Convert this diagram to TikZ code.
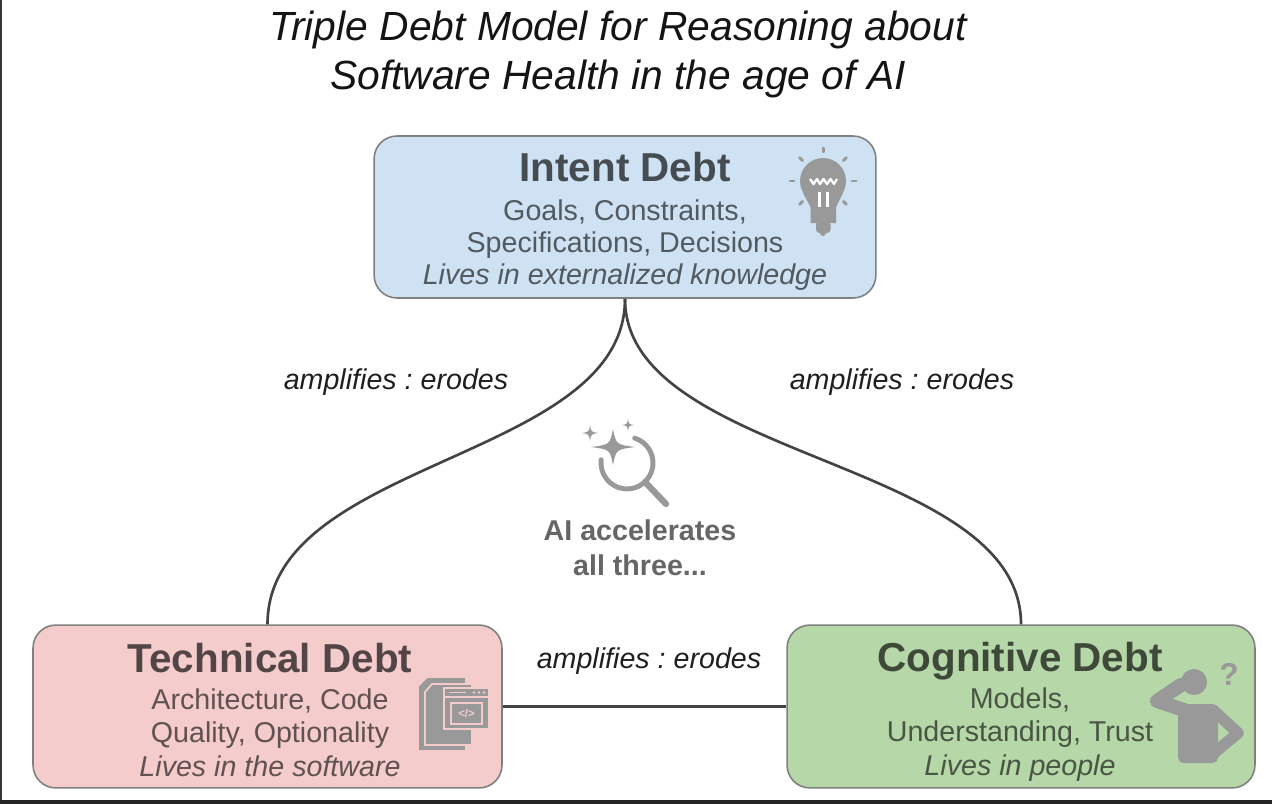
\documentclass[tikz,border=0pt]{standalone}
\usepackage{fontspec}
\setmainfont{Liberation Sans}
\usetikzlibrary{positioning}
\definecolor{intentfill}{HTML}{CFE2F3}
\definecolor{techfill}{HTML}{F4CCCC}
\definecolor{cogfill}{HTML}{B6D7A8}
\definecolor{boxline}{HTML}{808080}
\definecolor{icongray}{HTML}{999999}
\definecolor{linkgray}{HTML}{434343}
\frenchspacing
\tikzset{
  debtbox/.style={draw=boxline, line width=0.9pt, rounded corners=13pt, inner sep=0pt},
  headtext/.style={anchor=base, inner sep=0pt, text=black, text opacity=0.66, font=\fontsize{23}{27}\selectfont\bfseries},
  bodytext/.style={anchor=base, inner sep=0pt, text=black, text opacity=0.6, font=\fontsize{16.3}{19}\selectfont},
  livestext/.style={bodytext, font=\fontsize{16.3}{19}\selectfont\itshape},
  aitext/.style={bodytext, font=\fontsize{16.3}{19}\selectfont\bfseries},
  linklabel/.style={anchor=base, inner sep=0pt, text=black!88, font=\fontsize{16.3}{19}\selectfont\itshape},
  titletext/.style={anchor=base, inner sep=0pt, text=black!92, font=\fontsize{23.2}{27}\selectfont\itshape},
  link/.style={draw=linkgray, line width=1.5pt},
  sparkle/.pic={\fill[icongray] (0,-1) .. controls (0.14,-0.14) .. (1,0) .. controls (0.14,0.14) .. (0,1)
    .. controls (-0.14,0.14) .. (-1,0) .. controls (-0.14,-0.14) .. cycle;}
}
\begin{document}
\begin{tikzpicture}[x=0.02cm, y=-0.02cm]
  \useasboundingbox (0,0) rectangle (1280,804);
  % frame
  \draw[black!80, line width=1.7pt] (1,0) -- (1,804);
  \draw[black!85, line width=2.3pt] (0,802) -- (1272,802);
  % title
  \node[titletext] (title1) at (618,41) {Triple Debt Model for Reasoning about};
  \node[titletext] (title2) at (618,90) {Software Health in the age of AI};
  % the three debts
  \node[debtbox, fill=intentfill, minimum width=285.6pt, minimum height=92.2pt] (intent) at (625,217) {};
  \node[debtbox, fill=techfill, minimum width=266.9pt, minimum height=92.7pt] (technical) at (267.5,706.5) {};
  \node[debtbox, fill=cogfill, minimum width=266.3pt, minimum height=92.7pt] (cognitive) at (1021,706.5) {};
  % connectors
  \draw[link] (intent.south) .. controls +(0,162) and +(0,-166) .. (technical.north);
  \draw[link] (intent.south) .. controls +(0,162) and +(0,-166) .. (cognitive.north);
  \draw[link] (technical.east) -- (cognitive.west);
  \node[linklabel] (labelleft) at (396,389) {amplifies : erodes};
  \node[linklabel] (labelright) at (902,389) {amplifies : erodes};
  \node[linklabel] (labelbottom) at (649,668) {amplifies : erodes};
  % box texts
  \node[headtext] (intenthead) at (625,182) {Intent Debt};
  \node[bodytext] (intentone) at (625,220) {Goals, Constraints,};
  \node[bodytext] (intenttwo) at (625,252) {Specifications, Decisions};
  \node[livestext] (intentlives) at (625,284) {Lives in externalized knowledge};
  \node[headtext] (techhead) at (270,672) {Technical Debt};
  \node[bodytext] (techone) at (270,709) {Architecture, Code};
  \node[bodytext] (techtwo) at (270,742) {Quality, Optionality};
  \node[livestext] (techlives) at (270,776) {Lives in the software};
  \node[headtext] (coghead) at (1020,671) {Cognitive Debt};
  \node[bodytext] (cogone) at (1020,708) {Models,};
  \node[bodytext] (cogtwo) at (1020,741) {Understanding, Trust};
  \node[livestext] (coglives) at (1020,775) {Lives in people};
  % AI in the middle
  \node[aitext] (aione) at (640,540) {AI accelerates};
  \node[aitext] (aitwo) at (640,575) {all three...};
  \draw[icongray, line width=2.8pt, line cap=round] (601.2,459.8) arc[start angle=187, end angle=-73, radius=26];
  \draw[icongray, line width=3.6pt, line cap=round] (645,482) -- (666,504);
  \pic[xscale=22, yscale=18] at (613,447) {sparkle};
  \pic[scale=8] at (590,433) {sparkle};
  \pic[scale=6] at (628,425) {sparkle};
  % light bulb
  \fill[icongray] (823,181) circle (23);
  \fill[icongray] (803,193) -- (843,193) -- (836,207) -- (836,223) -- (810.5,223) -- (810.5,207) -- cycle;
  \fill[icongray, rounded corners=2pt] (816,221) rectangle (830.5,233);
  \fill[icongray] (823,233) circle (3);
  \draw[white, line width=1.3pt, line join=round] (810,179) -- (813.5,184) -- (817,179) -- (820,184) -- (823.5,179)
    -- (827,184) -- (830.5,179) -- (834,184) -- (837,179);
  \draw[white, line width=1.3pt] (819.5,192) -- (819.5,207) (827.5,192) -- (827.5,207);
  \foreach \a in {-90,-45,-135,0,180,45,135}
    \draw[icongray, line width=1.7pt, line cap=round] ([shift={(\a:29)}]823,181) -- ([shift={(\a:33)}]823,181);
  % code pages
  \filldraw[icongray, draw=techfill, line width=1pt] (418,686) -- (427,677) -- (466,677) -- (466,751) -- (418,751) -- cycle;
  \filldraw[icongray, draw=techfill, line width=1pt] (425,692) -- (432,684) -- (472,684) -- (472,745) -- (425,745) -- cycle;
  \filldraw[icongray, draw=techfill, line width=1.2pt] (444,688) rectangle (489,729);
  \draw[techfill, line width=1pt] (444,697) -- (489,697) (449,692.5) -- (466,692.5);
  \foreach \x in {474,479,484}
    \fill[techfill] (\x,692.5) circle (1.3);
  \draw[techfill, line width=1pt] (451,703) rectangle (482,724);
  \node[inner sep=0pt, text=techfill, font=\fontsize{6.5}{7}\selectfont\bfseries] (codetag) at (466.5,713.5) {</>};
  % person
  \fill[icongray] (1194,682) circle (13);
  \fill[icongray, rounded corners=3pt] (1178,704) rectangle (1218,763);
  \draw[icongray, line width=8pt, line join=round, line cap=round] (1184,710) -- (1157,701) -- (1181,685);
  \draw[icongray, line width=6.5pt, line join=round] (1212,709) -- (1238,733) -- (1214,753);
  \node[anchor=base, inner sep=0pt, text=icongray, font=\fontsize{18}{20}\selectfont\bfseries] (cogq) at (1229,685) {?};
\end{tikzpicture}
\end{document}
